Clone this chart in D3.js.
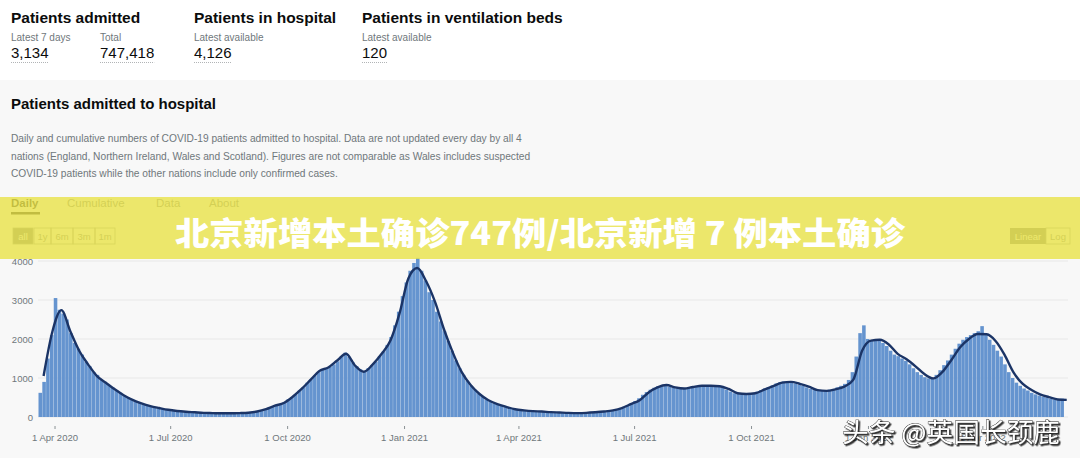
<!DOCTYPE html>
<html lang="en">
<head>
    <meta charset="UTF-8">
    <title>Patients admitted to hospital</title>
    <script src="https://d3js.org/d3.v7.min.js"></script>
    <style>
        body { margin: 0; background: #ffffff; }
        svg { display: block; font-family: "Liberation Sans", Arial, sans-serif; }
    </style>
</head>
<body>
<div id="chart"></div>
<script>
    // headline figures
    const headlines = [
        { title: "Patients admitted", x: 11, items: [["Latest 7 days", "3,134", 0], ["Total", "747,418", 89]] },
        { title: "Patients in hospital", x: 194, items: [["Latest available", "4,126", 0]] },
        { title: "Patients in ventilation beds", x: 362, items: [["Latest available", "120", 0]] }
    ];

    const descLines = [
        "Daily and cumulative numbers of COVID-19 patients admitted to hospital. Data are not updated every day by all 4",
        "nations (England, Northern Ireland, Wales and Scotland). Figures are not comparable as Wales includes suspected",
        "COVID-19 patients while the other nations include only confirmed cases."
    ];

    const tabs = ["Daily", "Cumulative", "Data", "About"];
    const ranges = ["all", "1y", "6m", "3m", "1m"];
    const yTicks = [0, 1000, 2000, 3000, 4000];
    const xTicks = ["2020-04-01", "2020-07-01", "2020-10-01", "2021-01-01", "2021-04-01",
                    "2021-07-01", "2021-10-01", "2022-01-01", "2022-04-01"];

    // daily admissions, one value per 3-day block starting 19 Mar 2020
    const barStart = "2020-03-19";
    const barValues = [
        620, 900, 1500, 2100, 3050, 2750, 2650, 2500, 2150, 1900,
        1750, 1600, 1420, 1300, 1150, 1080, 950, 900, 820, 760,
        680, 620, 560, 510, 450, 400, 370, 330, 310, 280,
        255, 235, 220, 200, 180, 165, 155, 145, 135, 128,
        120, 115, 108, 105, 100, 100, 97, 95, 95, 93,
        95, 97, 100, 103, 108, 118, 130, 145, 175, 200,
        240, 280, 300, 330, 380, 450, 510, 580, 680, 760,
        880, 960, 1060, 1150, 1210, 1250, 1290, 1350, 1430, 1560,
        1650, 1540, 1400, 1300, 1220, 1160, 1250, 1330, 1420, 1560,
        1680, 1850, 2050, 2350, 2700, 3100, 3450, 3750, 3950, 4080,
        3750, 3500, 3200, 3000, 2700, 2450, 2200, 1950, 1700, 1450,
        1250, 1080, 930, 800, 700, 600, 520, 450, 400, 350,
        320, 290, 260, 235, 215, 195, 180, 170, 160, 150,
        145, 140, 135, 128, 122, 118, 113, 108, 105, 102,
        100, 100, 102, 105, 112, 120, 128, 138, 148, 160,
        175, 195, 225, 260, 300, 350, 410, 480, 570, 640,
        700, 750, 790, 820, 810, 780, 760, 740, 730, 740,
        760, 780, 800, 810, 800, 800, 810, 790, 780, 750,
        700, 650, 610, 600, 590, 590, 600, 610, 650, 690,
        730, 770, 810, 860, 890, 910, 900, 880, 860, 830,
        800, 760, 720, 690, 680, 670, 680, 700, 720, 760,
        800, 850, 950, 1150, 1550, 2150, 2350, 2000, 1950, 2000,
        1980, 1900, 1820, 1700, 1600, 1560, 1500, 1440, 1350, 1250,
        1150, 1080, 1020, 990, 980, 1080, 1200, 1330, 1450, 1600,
        1750, 1880, 1980, 2050, 2100, 2150, 2200, 2330, 2100, 1980,
        1850, 1700, 1550, 1350, 1150, 1000, 880, 800, 730, 680,
        620, 580, 550, 520, 500, 470, 450, 440, 470
    ];

    // 7-day average, weekly points starting 23 Mar 2020
    const avgStart = "2020-03-23";
    const avgValues = [
        1050, 2200, 2740, 2200, 1700, 1350, 1050, 880, 710, 560,
        440, 350, 280, 230, 185, 155, 135, 120, 105, 100,
        95, 95, 100, 110, 140, 200, 290, 360, 520, 720,
        950, 1180, 1270, 1450, 1620, 1320, 1160, 1350, 1620, 1970,
        2650, 3550, 3820, 3480, 2950, 2250, 1650, 1150, 820, 590,
        430, 330, 260, 200, 170, 150, 140, 125, 115, 105,
        100, 105, 120, 140, 170, 230, 330, 430, 630, 760,
        820, 760, 730, 770, 800, 800, 790, 720, 610, 590,
        610, 700, 790, 880, 900, 850, 780, 690, 670, 710,
        780, 950, 1700, 1960, 1980, 1860, 1620, 1480, 1300, 1100,
        990, 1150, 1450, 1780, 2000, 2130, 2120, 1950, 1600, 1150,
        860, 700, 580, 510, 450, 440
    ];

    const W = 1080, H = 458;
    const parse = d3.timeParse("%Y-%m-%d");
    const grey = "#6f777b", ink = "#0b0c0c";

    const svg = d3.select("#chart").append("svg")
        .attr("width", W).attr("height", H);

    svg.append("rect").attr("width", W).attr("height", H).attr("fill", "#ffffff");
    svg.append("rect").attr("y", 80).attr("width", W).attr("height", H - 80).attr("fill", "#f8f8f8");

    // headline cards
    headlines.forEach(h => {
        svg.append("text").attr("x", h.x).attr("y", 23)
            .attr("font-size", 15.5).attr("font-weight", "bold").attr("fill", ink).text(h.title);
        h.items.forEach(([label, value, dx]) => {
            svg.append("text").attr("x", h.x + dx).attr("y", 41)
                .attr("font-size", 10).attr("fill", grey).text(label);
            const t = svg.append("text").attr("x", h.x + dx).attr("y", 58)
                .attr("font-size", 15).attr("fill", ink).text(value);
            const w = t.node().getComputedTextLength();
            svg.append("line").attr("x1", h.x + dx).attr("x2", h.x + dx + w)
                .attr("y1", 62.5).attr("y2", 62.5)
                .attr("stroke", "#b1b4b6").attr("stroke-dasharray", "1,1");
        });
    });

    svg.append("text").attr("x", 11).attr("y", 109)
        .attr("font-size", 15).attr("font-weight", "bold").attr("fill", ink)
        .text("Patients admitted to hospital");

    svg.selectAll(".desc").data(descLines).enter().append("text")
        .attr("class", "desc")
        .attr("x", 11).attr("y", (d, i) => 142 + i * 17.5)
        .attr("font-size", 10.2).attr("fill", grey).text(d => d);

    // tabs
    const tabX = [11, 67, 156, 209];
    tabs.forEach((t, i) => {
        svg.append("text").attr("x", tabX[i]).attr("y", 206.5)
            .attr("font-size", 11.5).attr("font-weight", i === 0 ? "bold" : "normal")
            .attr("fill", i === 0 ? ink : grey).text(t);
    });
    svg.append("rect").attr("x", 11).attr("y", 212).attr("width", 29).attr("height", 2.5).attr("fill", ink);

    // range buttons
    const btnX = [13, 34, 51, 73, 95], btnW = [20, 17, 22, 22, 20];
    ranges.forEach((r, i) => {
        svg.append("rect").attr("x", btnX[i]).attr("y", 228).attr("width", btnW[i]).attr("height", 16)
            .attr("fill", i === 0 ? grey : "none").attr("stroke", "#8e9396").attr("stroke-width", 0.8);
        svg.append("text").attr("x", btnX[i] + btnW[i] / 2).attr("y", 239.5)
            .attr("text-anchor", "middle").attr("font-size", 9.5)
            .attr("fill", i === 0 ? "#ffffff" : grey).text(r);
    });

    // linear / log toggle
    svg.append("rect").attr("x", 1010).attr("y", 228).attr("width", 36).attr("height", 16).attr("fill", grey);
    svg.append("rect").attr("x", 1046).attr("y", 228).attr("width", 24).attr("height", 16)
        .attr("fill", "none").attr("stroke", "#8e9396").attr("stroke-width", 0.8);
    svg.append("text").attr("x", 1028).attr("y", 239.5).attr("text-anchor", "middle")
        .attr("font-size", 9.5).attr("fill", "#ffffff").text("Linear");
    svg.append("text").attr("x", 1058).attr("y", 239.5).attr("text-anchor", "middle")
        .attr("font-size", 9.5).attr("fill", grey).text("Log");

    // scales
    const x = d3.scaleTime()
        .domain([parse("2020-03-19"), parse("2022-06-07")])
        .range([38.5, 1068]);
    const y = d3.scaleLinear().domain([0, 4000]).range([417, 261]);

    // grid + y labels
    const grid = svg.append("g");
    grid.selectAll("line").data(yTicks).enter().append("line")
        .attr("x1", 38).attr("x2", 1068)
        .attr("y1", d => y(d)).attr("y2", d => y(d))
        .attr("stroke", "#e8e8e8").attr("stroke-width", 1);
    grid.selectAll("text").data(yTicks).enter().append("text")
        .attr("x", 33).attr("y", d => y(d) + 3.5)
        .attr("text-anchor", "end").attr("font-size", 9.5).attr("fill", grey)
        .text(d => d);

    // bars
    const b0 = parse(barStart);
    const bars = barValues.map((v, i) => ({ d: d3.timeDay.offset(b0, i * 3), v }));
    svg.append("g").selectAll("rect").data(bars).enter().append("rect")
        .attr("x", d => x(d.d))
        .attr("width", d => x(d3.timeDay.offset(d.d, 3)) - x(d.d) - 0.25)
        .attr("y", d => y(d.v))
        .attr("height", d => y(0) - y(d.v))
        .attr("fill", "#6594cf");

    // 7-day average
    const a0 = parse(avgStart);
    const avg = avgValues.map((v, i) => ({ d: d3.timeDay.offset(a0, i * 7), v }));
    svg.append("path").datum(avg)
        .attr("fill", "none").attr("stroke", "#1b3466").attr("stroke-width", 2.4)
        .attr("d", d3.line().x(d => x(d.d)).y(d => y(d.v)).curve(d3.curveMonotoneX));

    // x axis
    const fmt = d3.timeFormat("%-d %b %Y");
    const xa = svg.append("g");
    xTicks.map(parse).forEach(d => {
        xa.append("line").attr("x1", x(d)).attr("x2", x(d)).attr("y1", 426).attr("y2", 429)
            .attr("stroke", grey).attr("stroke-width", 0.8);
        xa.append("text").attr("x", x(d)).attr("y", 441).attr("text-anchor", "middle")
            .attr("font-size", 9.5).attr("fill", grey).text(fmt(d));
    });

    // yellow banner
    svg.append("rect").attr("x", 0).attr("y", 197).attr("width", W).attr("height", 62)
        .attr("fill", "#e9e34c").attr("opacity", 0.82);
    svg.append("text").attr("x", 175).attr("y", 245)
        .attr("font-family", "'Noto Sans CJK SC', sans-serif").attr("font-weight", 900)
        .attr("font-size", 32).attr("fill", "#ffffff")
        .attr("textLength", 730).attr("lengthAdjust", "spacingAndGlyphs")
        .text("北京新增本土确诊747例/北京新增 7 例本土确诊");

    // watermark
    const defs = svg.append("defs");
    const f = defs.append("filter").attr("id", "shadow");
    f.append("feDropShadow").attr("dx", 1.5).attr("dy", 1.5).attr("stdDeviation", 0.6)
        .attr("flood-color", "#000000").attr("flood-opacity", 0.8);
    svg.append("text").attr("x", 842).attr("y", 442)
        .attr("font-family", "'Noto Sans CJK SC', sans-serif").attr("font-size", 26)
        .attr("textLength", 218).attr("lengthAdjust", "spacingAndGlyphs")
        .attr("fill", "#ffffff").attr("stroke", "#222222").attr("stroke-width", 0.8)
        .attr("paint-order", "stroke").attr("filter", "url(#shadow)")
        .text("头条 @英国长颈鹿");
</script>
</body>
</html>
